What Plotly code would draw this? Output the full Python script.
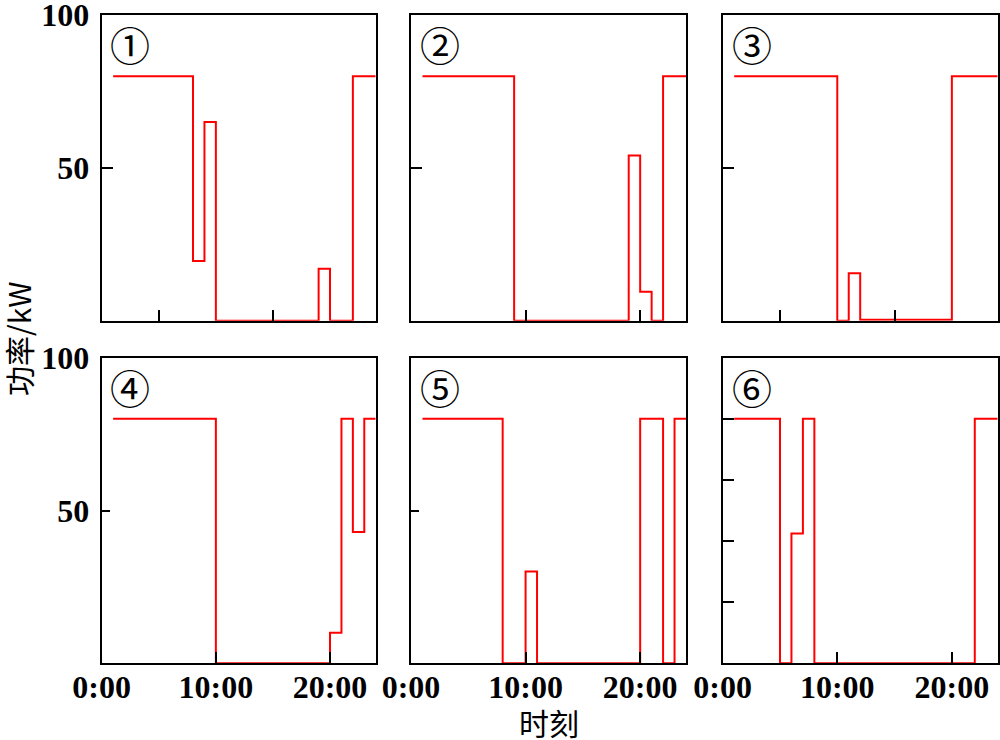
import plotly.graph_objects as go

# Step series: hour at which each level starts, and the level (kW)
p1_t = [1, 8, 9, 10, 19, 20, 22, 24]
p1_p = [80, 19.5, 65, 0, 17, 0, 80, 80]
p2_t = [1, 9, 19, 20, 21, 22, 24]
p2_p = [80, 0, 54, 9.5, 0, 80, 80]
p3_t = [1, 10, 11, 12, 20, 24]
p3_p = [80, 0, 15.5, 0.3, 80, 80]
p4_t = [1, 10, 20, 21, 22, 23, 24]
p4_p = [80, 0, 10, 80, 43, 80, 80]
p5_t = [1, 8, 10, 11, 20, 22, 23, 24]
p5_p = [80, 0, 30, 0, 80, 0, 80, 80]
p6_t = [1, 5, 6, 7, 8, 22, 24]
p6_p = [80, 0, 42.5, 80, 0, 80, 80]

series = [(p1_t, p1_p), (p2_t, p2_p), (p3_t, p3_p),
          (p4_t, p4_p), (p5_t, p5_p), (p6_t, p6_p)]
panel_labels = ["①", "②", "③", "④", "⑤", "⑥"]

x_tick_vals_top = [[5, 15], [10, 20], [5, 15]]
x_tick_vals_bottom = [0, 10, 20]
x_tick_text_bottom = ["0:00", "10:00", "20:00"]
y_tick_vals = [[50, 100], [50], [50], [50, 100], [50], [20, 40, 60, 80]]
y_tick_text_left = ["50", "100"]

x_title = "时刻"
y_title = "功率/kW"

W, H = 1000, 740
col_px = [(101.7, 375.7), (411, 686), (722.7, 997.7)]
row_px = [(15, 320.7), (357.7, 663.3)]

SERIF = "Liberation Serif"
CJK = "Noto Sans CJK SC"

fig = go.Figure()
layout = dict(width=W, height=H, margin=dict(l=0, r=0, t=0, b=0, autoexpand=False),
              paper_bgcolor="white", plot_bgcolor="white", showlegend=False)
annotations = []

for i, (t, p) in enumerate(series):
    r, c = divmod(i, 3)
    n = i + 1
    xa = "x" if n == 1 else f"x{n}"
    ya = "y" if n == 1 else f"y{n}"
    fig.add_trace(go.Scatter(x=t, y=p, mode="lines", line_shape="hv",
                             line=dict(color="#ff0000", width=2),
                             xaxis=xa, yaxis=ya, hoverinfo="skip"))
    x0, x1 = col_px[c]
    y0, y1 = row_px[r]
    xdom = [x0 / W, x1 / W]
    ydom = [1 - y1 / H, 1 - y0 / H]
    xkey = "xaxis" if n == 1 else f"xaxis{n}"
    ykey = "yaxis" if n == 1 else f"yaxis{n}"
    xaxis = dict(domain=xdom, range=[0, 24], anchor=ya, showgrid=False,
                 zeroline=False, showline=True, linecolor="black", linewidth=2,
                 mirror=True, ticks="inside", ticklen=11, tickwidth=2,
                 tickcolor="black", fixedrange=True, automargin=False,
                 ticklabeloverflow="allow")
    if r == 0:
        xaxis.update(tickvals=x_tick_vals_top[c], showticklabels=False)
    else:
        xaxis.update(tickvals=x_tick_vals_bottom, ticktext=x_tick_text_bottom,
                     ticklabelstandoff=-6,
                     tickfont=dict(family=SERIF, size=32, color="black",
                                   weight="bold"))
    yaxis = dict(domain=ydom, range=[0, 100], anchor=xa, showgrid=False,
                 zeroline=False, showline=True, linecolor="black", linewidth=2,
                 mirror=True, ticks="inside", ticklen=11 if i not in (3, 4) else 8,
                 tickwidth=2, tickcolor="black", tickvals=y_tick_vals[i],
                 fixedrange=True, automargin=False, ticklabeloverflow="allow")
    if c == 0:
        yaxis.update(ticktext=y_tick_text_left, ticklabelstandoff=4,
                     tickfont=dict(family=SERIF, size=32, color="black",
                                   weight="bold"))
    else:
        yaxis.update(showticklabels=False)
    layout[xkey] = xaxis
    layout[ykey] = yaxis
    annotations.append(dict(text=panel_labels[i], xref=f"{xa} domain",
                            yref=f"{ya} domain", x=0.105, y=0.905,
                            xanchor="center", yanchor="middle", showarrow=False,
                            font=dict(family=CJK, size=40, color="black")))

annotations.append(dict(text=x_title, xref="paper", yref="paper",
                        x=549 / W, y=1 - 722 / H, xanchor="center",
                        yanchor="middle", showarrow=False,
                        font=dict(family=CJK, size=30, color="black")))
annotations.append(dict(text=y_title, xref="paper", yref="paper",
                        x=18 / W, y=1 - 339 / H, xanchor="center",
                        yanchor="middle", showarrow=False, textangle=-90,
                        font=dict(family=CJK, size=30, color="black")))
layout["annotations"] = annotations
fig.update_layout(**layout)
fig.write_html("out.html")
